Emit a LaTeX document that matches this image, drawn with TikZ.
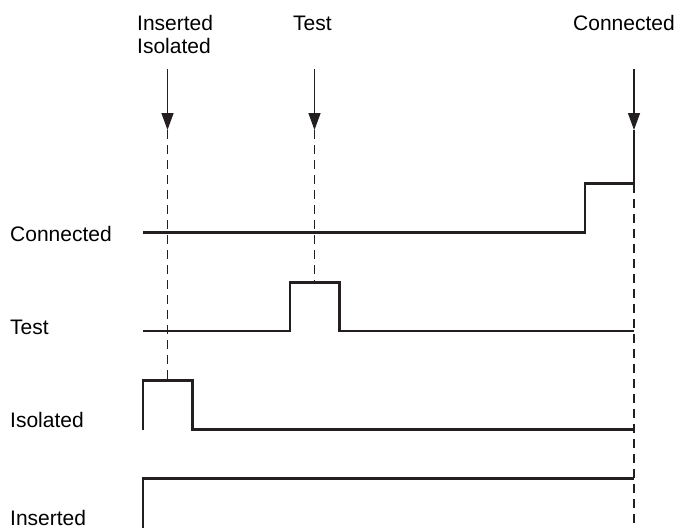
\documentclass[tikz,border=0pt]{standalone}
\usepackage{fontspec}
\setmainfont{Liberation Sans}
\usetikzlibrary{arrows.meta}
\definecolor{sig}{RGB}{35,31,32}
\begin{document}
\begin{tikzpicture}[x=1pt,y=-1pt,
  lbl/.style={anchor=base west, inner sep=0pt, font=\fontsize{21}{23}\selectfont},
  signal/.style={line width=2.2pt, draw=sig, line join=miter},
  marker/.style={line width=1.4pt, draw=sig, -{Triangle[length=17pt,width=12pt]}},
  solidline/.style={line width=1.4pt, draw=sig},
  guide/.style={line width=1.4pt, draw=sig, dash pattern=on 9pt off 6pt}]
\useasboundingbox (0,0) rectangle (679,528);

% left labels
\node[lbl] (lcon) at (10,241) {Connected};
\node[lbl] (ltest) at (10,334) {Test};
\node[lbl] (liso) at (10,427) {Isolated};
\node[lbl, text depth=0pt] (lins) at (10,525) {Inserted};

% top labels
\node[lbl] (tins) at (137,30) {Inserted};
\node[lbl] (tiso) at (137,53) {Isolated};
\node[lbl] (ttest) at (293,30) {Test};
\node[lbl] (tcon) at (573,30) {Connected};

% marker coordinates
\coordinate (a1s) at (167.5,69);
\coordinate (a1e) at (167.5,130);
\coordinate (a1d) at (167.5,380.5);
\coordinate (a2s) at (314.5,69);
\coordinate (a2e) at (314.5,130);
\coordinate (a2d) at (314.5,282.5);
\coordinate (a3s) at (634,69);
\coordinate (a3e) at (634,130);
\coordinate (a3m) at (634,183.5);
\coordinate (a3d) at (634,528);

\draw[marker] (a1s) -- (a1e);
\draw[marker] (a2s) -- (a2e);
\draw[marker] (a3s) -- (a3e);
\draw[solidline] (a3e) -- (a3m);
\draw[guide] (a1e) -- (a1d);
\draw[guide] (a2e) -- (a2d);
\draw[guide] (a3m) -- (a3d);

% signals
\draw[signal] (143,232.5) -- (585,232.5) -- (585,183.5) -- (634,183.5);
\draw[signal] (143,331) -- (290,331) -- (290,282.5) -- (339.5,282.5) -- (339.5,331) -- (634,331);
\draw[signal] (143,429.5) -- (143,380.5) -- (192.5,380.5) -- (192.5,429.5) -- (634,429.5);
\draw[signal] (143,528) -- (143,478.5) -- (634,478.5);
\end{tikzpicture}
\end{document}
